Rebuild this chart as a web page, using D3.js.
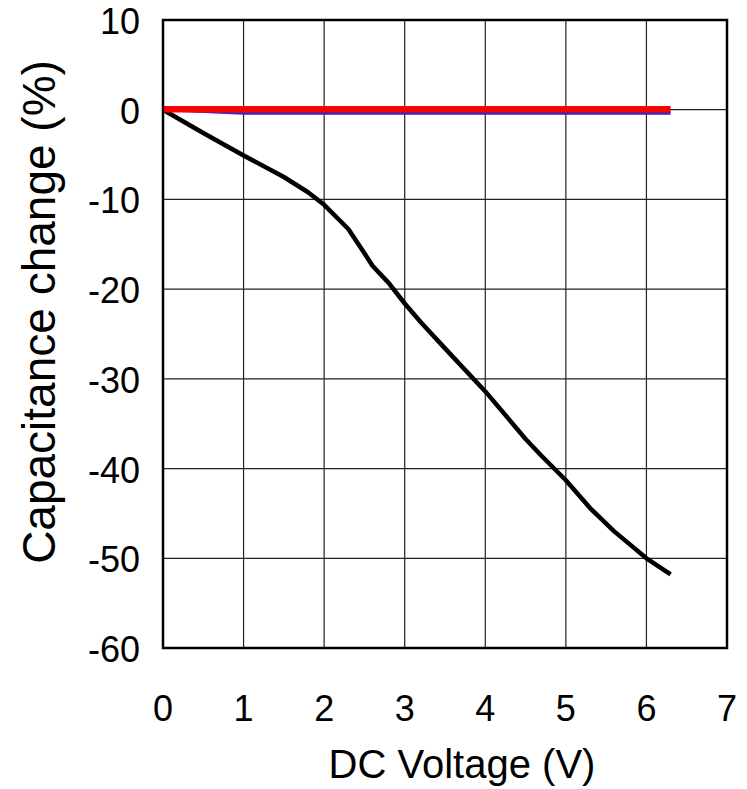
<!DOCTYPE html>
<html>
<head>
<meta charset="utf-8">
<script src="https://cdn.jsdelivr.net/npm/d3@7"></script>
<style>
body{margin:0;background:#fff;}
text{font-family:"Liberation Sans",Arial,sans-serif;fill:#000;}
</style>
</head>
<body>
<svg id="chart" width="747" height="789"></svg>
<script>
// tick values
var xTicks=[0,1,2,3,4,5,6,7];
var yTicks=[10,0,-10,-20,-30,-40,-50,-60];

// black curve (capacitance change vs DC bias)
var blackV=[0,0.5,1,1.5,1.8,2,2.3,2.5,2.6,2.8,3,3.2,3.5,4,4.5,4.7,5,5.3,5.6,6,6.3];
var blackC=[0,-2.6,-5.1,-7.5,-9.2,-10.6,-13.3,-16,-17.4,-19.3,-21.6,-23.7,-26.6,-31.4,-36.7,-38.6,-41.3,-44.4,-47,-50,-51.8];

// blue curve, almost flat just under zero
var blueV=[0,1,2,3,4,5,6,6.3];
var blueC=[0,-0.4,-0.4,-0.4,-0.4,-0.4,-0.4,-0.4];

// red curve, flat at zero
var redV=[0,1,2,3,4,5,6,6.3];
var redC=[0.05,0.05,0.05,0.05,0.05,0.05,0.05,0.05];

var L=163,T=20,W=564,H=628;
var svg=d3.select("#chart");
var x=d3.scaleLinear().domain([0,7]).range([L,L+W]);
var y=d3.scaleLinear().domain([-60,10]).range([T+H,T]);

// grid
svg.append("g").selectAll("line").data(xTicks).enter().append("line")
  .attr("x1",function(d){return x(d);}).attr("x2",function(d){return x(d);})
  .attr("y1",T).attr("y2",T+H).attr("stroke","#222").attr("stroke-width",1.2);
svg.append("g").selectAll("line").data(yTicks).enter().append("line")
  .attr("x1",L).attr("x2",L+W)
  .attr("y1",function(d){return y(d);}).attr("y2",function(d){return y(d);})
  .attr("stroke","#222").attr("stroke-width",1.2);

// tick labels
svg.append("g").selectAll("text").data(xTicks).enter().append("text")
  .attr("x",function(d){return x(d);}).attr("y",T+H+73)
  .attr("text-anchor","middle").style("font-size","36px").text(function(d){return d;});
svg.append("g").selectAll("text").data(yTicks).enter().append("text")
  .attr("x",L-23).attr("y",function(d){return y(d)+14;})
  .attr("text-anchor","end").style("font-size","36px").text(function(d){return d;});

var line=d3.line().x(function(d){return x(d[0]);}).y(function(d){return y(d[1]);});

svg.append("path").datum(d3.zip(blackV,blackC)).attr("d",line)
  .attr("fill","none").attr("stroke","#000").attr("stroke-width",4.5).attr("stroke-linejoin","round");
svg.append("path").datum(d3.zip(blueV,blueC)).attr("d",line)
  .attr("fill","none").attr("stroke","#3a22cc").attr("stroke-width",3);
svg.append("path").datum(d3.zip(redV,redC)).attr("d",line)
  .attr("fill","none").attr("stroke","#ff0000").attr("stroke-width",6.5);

// frame
svg.append("rect").attr("x",L).attr("y",T).attr("width",W).attr("height",H)
  .attr("fill","none").attr("stroke","#000").attr("stroke-width",2.5);

// axis titles
svg.append("text").attr("x",462).attr("y",778).attr("text-anchor","middle")
  .style("font-size","40px").text("DC Voltage (V)");
svg.append("text").attr("transform","translate(55,312) rotate(-90)").attr("text-anchor","middle")
  .style("font-size","46px").text("Capacitance change (%)");
</script>
</body>
</html>
